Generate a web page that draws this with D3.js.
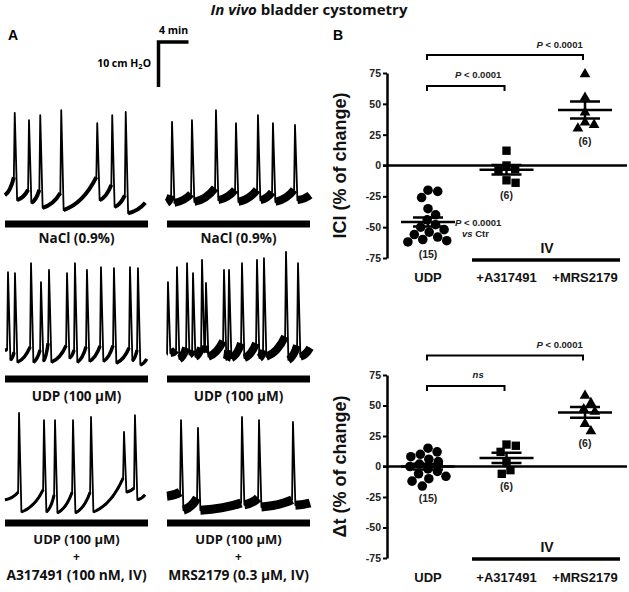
<!DOCTYPE html>
<html><head><meta charset="utf-8">
<script src="https://cdn.jsdelivr.net/npm/d3@7"></script>
<style>body{margin:0;background:#fff} svg{display:block}</style>
</head><body>
<svg id="c" width="629" height="592"></svg>
<script>
// ===== Panel A: cystometry traces (time in min, pressure in cmH2O) =====
// each spike: [time, pre-void level, peak, post-void trough]; edges: [start level, end time, end level]
const spikesNaClL = [[1.3,8.4,22.7,3.3],[3.2,5.6,21.1,2.7],[4.7,5.6,22.2,1.6],[7.5,4.9,23.3,1.1],[12.3,8.4,20.4,3.3],[14.3,6.7,22.2,1.8],[16.1,4.4,22.9,0.4]];
const edgesNaClL = [4.4, 18.7, 2.7];
const spikesNaClR = [[0.67,4.4,20.7,2.7],[3.33,4.7,21.1,2.9],[6.53,6.0,23.3,3.3],[9.2,5.6,20.4,2.9],[12.13,5.6,22.2,3.3],[14.13,5.1,20.4,2.9],[17.07,5.6,20.0,3.3]];
const edgesNaClR = [2.7, 19.07, 4.4];
const spikesUdpL = [[0.4,4.0,21.3,1.8],[1.33,3.5,21.1,1.3],[3.47,4.7,23.3,1.3],[4.8,4.0,19.1,1.5],[5.87,5.5,21.8,1.3],[8.27,5.0,21.1,2.2],[9.33,4.0,23.3,1.3],[10.93,4.7,21.8,1.5],[12.8,4.9,22.4,1.5],[14.53,5.0,22.2,1.1],[16.67,4.5,22.4,1.6],[17.73,4.0,22.2,0.7]];
const edgesUdpL = [4.0, 18.9, 2.0];
const spikesUdpR = [[0.13,3.0,19.1,3.3],[1.33,4.0,22.4,2.0],[2.67,4.5,23.3,3.0],[3.47,4.0,21.1,2.5],[4.67,4.5,24.0,3.5],[5.2,5.0,18.9,2.5],[7.6,6.0,21.8,1.8],[8.27,4.0,21.8,2.2],[10.0,5.5,23.3,2.2],[12.0,5.5,24.0,2.2],[12.93,4.0,24.4,2.5],[15.87,7.0,25.8,1.8],[17.47,5.0,23.3,2.5]];
const edgesUdpR = [3.0, 19.07, 4.5];
const spikesA317 = [[1.87,5.3,22.9,0.9],[5.2,5.8,21.3,0.9],[6.67,4.7,21.3,0.7],[9.07,5.3,21.3,0.7],[11.47,5.3,22.0,0.9],[15.87,8.4,18.7,5.3],[17.33,6.2,22.4,3.6]];
const edgesA317 = [3.6, 18.67, 4.7];
const spikesMRS = [[1.87,5.3,21.3,1.3],[4.13,4.0,19.6,1.3],[10.0,2.9,22.0,2.5],[12.27,4.0,21.3,2.0],[16.8,3.6,20.9,2.4]];
const edgesMRS = [4.4, 19.07, 2.9];
const labelsLeft = [["NaCl (0.9%)"], ["UDP (100 µM)"], ["UDP (100 µM)", "+", "A317491 (100 nM, IV)"]];
const labelsRight = [["NaCl (0.9%)"], ["UDP (100 µM)"], ["UDP (100 µM)", "+", "MRS2179 (0.3 µM, IV)"]];

// ===== Panel B: scatter plots (% of change) =====
const groups = ["UDP", "+A317491", "+MRS2179"];
const iciUDP = [-20, -21, -26, -35, -40, -44, -48, -50, -52, -54, -56, -58, -60, -61, -62];
const iciA317 = [12, 0, -3, -4, -12, -14];
const iciMRS = [74, 55, 43, 35, 33, 30];
const dtUDP = [15, 12, 10, 8, 6, 4, 2, 0, -2, -4, -6, -8, -10, -12, -16];
const dtA317 = [18, 17, 12, 4, -3, -6];
const dtMRS = [58, 52, 47, 45, 35, 29];
const nLabels = ["(15)", "(6)", "(6)"];
const yTicks = [-75, -50, -25, 0, 25, 50, 75];

const svg = d3.select("#c");
const FA = "'Open Sans', sans-serif";
const FB = "'Liberation Sans', Arial, sans-serif";

// Title
const title = svg.append("text").attr("x", 309).attr("y", 15).attr("text-anchor", "middle")
  .attr("font-family", FA).attr("font-weight", 700).attr("font-size", 15).attr("fill", "#111");
title.append("tspan").attr("font-style", "italic").text("In vivo");
title.append("tspan").text(" bladder cystometry");

svg.append("text").attr("x", 8).attr("y", 40).attr("font-family", FB).attr("font-weight", 700)
  .attr("font-size", 14).text("A");
svg.append("text").attr("x", 333).attr("y", 40).attr("font-family", FB).attr("font-weight", 700)
  .attr("font-size", 14).text("B");

// trace scales
const tScale = d3.scaleLinear().domain([0, 19.07]).range([0, 143]);
const pScale = d3.scaleLinear().domain([0, 10]).range([0, 45]);

// scale bar
const sb = svg.append("g");
const sbX = 158.5, sbY = 42;
sb.append("path").attr("d", `M${sbX},${sbY + pScale(10)}V${sbY}H${sbX + tScale(4)}`)
  .attr("fill", "none").attr("stroke", "#000").attr("stroke-width", 3.5).attr("stroke-linejoin", "miter");
sb.append("text").attr("x", sbX + tScale(4) / 2).attr("y", 34).attr("text-anchor", "middle")
  .attr("font-family", FA).attr("font-weight", 700).attr("font-size", 10.5).text("4 min");
const hl = sb.append("text").attr("x", 151).attr("y", 67).attr("text-anchor", "end")
  .attr("font-family", FA).attr("font-weight", 700).attr("font-size", 10.5);
hl.append("tspan").text("10 cm H");
hl.append("tspan").attr("font-size", 7.5).attr("dy", 2).text("2");
hl.append("tspan").attr("dy", -2).text("O");

function drawTrace(spikes, edges, x0, y0, band) {
  const X = t => x0 + tScale(t), Y = v => y0 - pScale(v);
  const rise = 0.12, fall = 0.32;
  const full = d3.path(), ramps = d3.path();
  let prev = [0, edges[0]];
  full.moveTo(X(prev[0]), Y(prev[1]));
  const ramp = (p, q) => {
    const cx = p[0] + 0.6 * (q[0] - p[0]), cy = p[1] + 0.2 * (q[1] - p[1]);
    full.quadraticCurveTo(X(cx), Y(cy), X(q[0]), Y(q[1]));
    ramps.moveTo(X(p[0]), Y(p[1]));
    ramps.quadraticCurveTo(X(cx), Y(cy), X(q[0]), Y(q[1]));
  };
  spikes.forEach(([t, pre, pk, tr]) => {
    const a = [t - rise, pre];
    ramp(prev, a);
    full.lineTo(X(t), Y(pk));
    full.lineTo(X(t + fall), Y(tr));
    prev = [t + fall, tr];
  });
  ramp(prev, [edges[1], edges[2]]);
  svg.append("path").attr("d", ramps.toString()).attr("fill", "none").attr("stroke", "#000")
    .attr("stroke-width", band).attr("stroke-linecap", "butt");
  svg.append("path").attr("d", full.toString()).attr("fill", "none").attr("stroke", "#000")
    .attr("stroke-width", 1.8).attr("stroke-linejoin", "round");
}

const rowsY = [215, 368, 516];
const barsY = [224, 379, 523];
const labelY = [[243], [401], [544, 561, 580]];
const labelSize = [13, 12, 13.8];
const colX = [5, 167];
drawTrace(spikesNaClL, edgesNaClL, colX[0], rowsY[0], 4);
drawTrace(spikesNaClR, edgesNaClR, colX[1], rowsY[0], 8);
drawTrace(spikesUdpL, edgesUdpL, colX[0], rowsY[1], 3.5);
drawTrace(spikesUdpR, edgesUdpR, colX[1], rowsY[1], 8);
drawTrace(spikesA317, edgesA317, colX[0], rowsY[2], 3);
drawTrace(spikesMRS, edgesMRS, colX[1], rowsY[2], 9);

[labelsLeft, labelsRight].forEach((labs, c) => {
  labs.forEach((lines, r) => {
    svg.append("rect").attr("x", colX[c]).attr("y", barsY[r] - 3.5).attr("width", 143).attr("height", 7).attr("fill", "#000");
    lines.forEach((s, k) => {
      svg.append("text").attr("x", colX[c] + 71.5).attr("y", labelY[r][k]).attr("text-anchor", "middle")
        .attr("font-family", FA).attr("font-weight", 700).attr("font-size", r < 2 ? 13.5 : labelSize[k])
        .attr("fill", "#111").text(s);
    });
  });
});

// ===== Panel B =====
const xB = d3.scalePoint().domain(groups).range([428, 585]);
const axX = 387;

function dodge(vals, y, r) {
  const pts = vals.map(v => ({ v, y: y(v) })).sort((a, b) => a.y - b.y);
  const placed = [];
  for (const p of pts) {
    const cands = [0];
    for (const q of placed) {
      const dy = Math.abs(q.y - p.y);
      if (dy < 2 * r) { const dx = Math.sqrt(4 * r * r - dy * dy); cands.push(q.x + dx, q.x - dx); }
    }
    cands.sort((a, b) => Math.abs(a) - Math.abs(b));
    for (const c of cands) {
      if (placed.every(q => (q.x - c) ** 2 + (q.y - p.y) ** 2 >= 4 * r * r - 0.01)) { p.x = c; break; }
    }
    placed.push(p);
  }
  return placed;
}

function drawPlot(y, sets, axisTitle, brackets, ivY, xlabY, extra) {
  const g = svg.append("g");
  const ax = g.append("g").attr("transform", `translate(${axX},0)`)
    .call(d3.axisLeft(y).tickValues(yTicks).tickSize(4).tickSizeOuter(0).tickPadding(2)
      .tickFormat(d => d < 0 ? "-" + Math.abs(d) : d));
  ax.select(".domain").attr("stroke-width", 2.5);
  ax.selectAll(".tick line").attr("stroke-width", 2);
  ax.selectAll(".tick text").attr("font-family", FB).attr("font-weight", 700).attr("font-size", 10.5).attr("fill", "#222");
  g.append("line").attr("x1", axX - 4).attr("x2", 627).attr("y1", y(0)).attr("y2", y(0))
    .attr("stroke", "#000").attr("stroke-width", 2.5);
  const [y0, y1] = y.range();
  g.append("text").attr("transform", `translate(346,${(y0 + y1) / 2}) rotate(-90)`).attr("text-anchor", "middle")
    .attr("font-family", FB).attr("font-weight", 700).attr("font-size", 18).attr("fill", "#111").text(axisTitle);

  const symbols = [d3.symbolCircle, d3.symbolSquare, d3.symbolTriangle];
  const sizes = [72, 70, 50];
  sets.forEach((vals, i) => {
    const cx = xB(groups[i]);
    const pts = dodge(vals, y, i === 0 ? 4.9 : 4.7);
    g.selectAll(null).data(pts).join("path")
      .attr("transform", d => `translate(${cx + d.x},${d.y})`)
      .attr("d", d3.symbol(symbols[i], sizes[i])).attr("fill", "#000");
    const m = d3.mean(vals), sem = d3.deviation(vals) / Math.sqrt(vals.length);
    const eb = d3.path();
    eb.moveTo(cx - 27, y(m)); eb.lineTo(cx + 27, y(m));
    eb.moveTo(cx - 15, y(m + sem)); eb.lineTo(cx + 15, y(m + sem));
    eb.moveTo(cx - 15, y(m - sem)); eb.lineTo(cx + 15, y(m - sem));
    eb.moveTo(cx, y(m + sem)); eb.lineTo(cx, y(m - sem));
    g.append("path").attr("d", eb.toString()).attr("stroke", "#000").attr("stroke-width", 2.5).attr("fill", "none");
    g.append("text").attr("x", cx).attr("y", y(d3.min(vals)) + 16).attr("text-anchor", "middle")
      .attr("font-family", FB).attr("font-weight", 700).attr("font-size", 10.5).attr("fill", "#222").text(nLabels[i]);
    if (i === 0 && extra) {
      const t1 = g.append("text").attr("x", cx + 27).attr("y", y(m) + 4)
        .attr("font-family", FB).attr("font-weight", 700).attr("font-size", 9.5).attr("fill", "#222");
      t1.append("tspan").attr("font-style", "italic").text("P");
      t1.append("tspan").text(" < 0.0001");
      const t2 = g.append("text").attr("x", cx + 34).attr("y", y(m) + 15)
        .attr("font-family", FB).attr("font-weight", 700).attr("font-size", 9.5).attr("fill", "#222");
      t2.append("tspan").attr("font-style", "italic").text("vs");
      t2.append("tspan").text(" Ctr");
    }
  });

  brackets.forEach(b => {
    const xa = xB(groups[b.from]) - 1, xb = xB(groups[b.to]) - 2, yy = y(b.level);
    g.append("path").attr("d", `M${xa},${yy + 5}V${yy}H${xb}V${yy + 5}`)
      .attr("fill", "none").attr("stroke", "#000").attr("stroke-width", 2);
    const t = g.append("text").attr("x", xa + b.at * (xb - xa)).attr("y", yy - 7.5).attr("text-anchor", "middle")
      .attr("font-family", FB).attr("font-weight", 700).attr("font-size", 9.5).attr("fill", "#222");
    if (b.label === "ns") t.append("tspan").attr("font-style", "italic").text("ns");
    else { t.append("tspan").attr("font-style", "italic").text("P"); t.append("tspan").text(" < 0.0001"); }
  });

  g.append("line").attr("x1", 472).attr("x2", 620).attr("y1", ivY).attr("y2", ivY)
    .attr("stroke", "#000").attr("stroke-width", 3.5);
  g.append("text").attr("x", 547).attr("y", ivY - 7).attr("text-anchor", "middle")
    .attr("font-family", FB).attr("font-weight", 700).attr("font-size", 14).attr("fill", "#111").text("IV");
  groups.forEach(gr => {
    g.append("text").attr("x", xB(gr)).attr("y", xlabY).attr("text-anchor", "middle")
      .attr("font-family", FB).attr("font-weight", 700).attr("font-size", 13).attr("fill", "#111").text(gr);
  });
}

const yTop = d3.scaleLinear().domain([-75, 75]).range([258, 73]);
const yBot = d3.scaleLinear().domain([-75, 75]).range([558, 375]);

drawPlot(yTop, [iciUDP, iciA317, iciMRS], "ICI (% of change)",
  [{ from: 0, to: 1, level: 64.5, label: "P", at: 0.66 }, { from: 0, to: 2, level: 89.5, label: "P", at: 0.85 }],
  260, 282, true);
drawPlot(yBot, [dtUDP, dtA317, dtMRS], "\u0394t (% of change)",
  [{ from: 0, to: 1, level: 66, label: "ns", at: 0.66 }, { from: 0, to: 2, level: 91, label: "P", at: 0.85 }],
  559, 582, false);
</script>
</body></html>
